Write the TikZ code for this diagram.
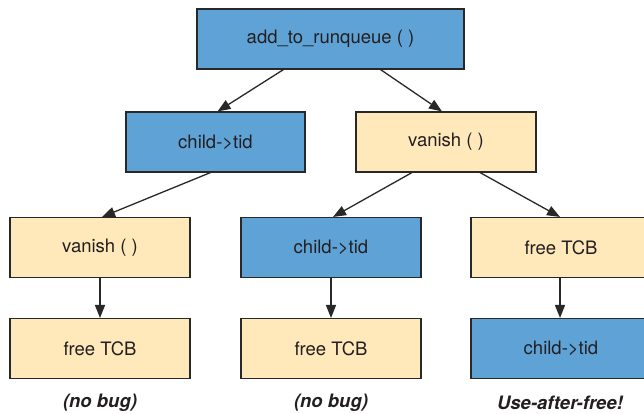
\documentclass[tikz,border=0pt]{standalone}
\usepackage{fontspec}
\setmainfont{TeX Gyre Heros}
\usetikzlibrary{arrows.meta}
\definecolor{boxblue}{RGB}{94,162,214}
\definecolor{boxyellow}{RGB}{255,232,186}
\definecolor{edge}{RGB}{40,40,40}
\definecolor{txt}{RGB}{35,31,32}
\tikzset{
  box/.style={draw=edge, line width=1.1pt, minimum height=60pt, minimum width=180pt,
    inner sep=0pt, text=txt, font=\fontsize{18.5}{20}\selectfont},
  bluebox/.style={box, fill=boxblue},
  yellowbox/.style={box, fill=boxyellow},
  conn/.style={draw=edge, line width=1.3pt, -{Triangle[length=13pt,width=10pt]}},
  verdict/.style={text=txt, font=\fontsize{18.5}{20}\selectfont\bfseries\itshape}
}
\begin{document}
\begin{tikzpicture}[x=1pt,y=-1pt]
\useasboundingbox (0,0) rectangle (644,413);
\clip (0,0) rectangle (644,413);
\node[bluebox, minimum width=267pt] (top) at (330.5,39) {add\_to\_runqueue ( )};
\node[bluebox, minimum width=179pt] (c2) at (215.5,142) {child->tid};
\node[yellowbox] (v2) at (446,142) {vanish ( )};
\node[yellowbox] (v3) at (100,247.5) {vanish ( )};
\node[bluebox] (c3) at (331,247.5) {child->tid};
\node[yellowbox] (f3) at (561,247.5) {free TCB};
\node[yellowbox] (f4a) at (100,348.5) {free TCB};
\node[yellowbox] (f4b) at (331,348.5) {free TCB};
\node[bluebox] (c4) at (561,348.5) {child->tid};
\node[verdict] (l1) at (100,403) {(no bug)};
\node[verdict] (l2) at (331,403) {(no bug)};
\node[verdict] (l3) at (560,403) {Use-after-free!};
\draw[conn] ([xshift=-47pt]top.south) -- ([xshift=2pt]c2.north);
\draw[conn] ([xshift=50pt]top.south) -- ([xshift=-4pt]v2.north);
\draw[conn] ([xshift=-5pt]c2.south) -- ([xshift=2pt]v3.north);
\draw[conn] ([xshift=-34pt]v2.south) -- ([xshift=2pt]c3.north);
\draw[conn] ([xshift=34pt]v2.south) -- ([xshift=-1pt]f3.north);
\draw[conn] (v3) -- (f4a);
\draw[conn] (c3) -- (f4b);
\draw[conn] ([xshift=-1pt]f3.south) -- ([xshift=-1pt]c4.north);
\end{tikzpicture}
\end{document}
